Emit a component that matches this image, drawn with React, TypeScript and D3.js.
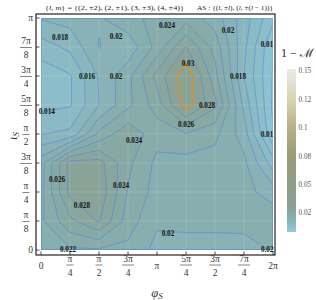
import { useMemo } from 'react';
import * as d3 from 'd3';

const W = 316;
const H = 300;

// sample grid, in units of π
const phiGrid = [0, 0.25, 0.5, 0.75, 1, 1.25, 1.5, 1.75, 2];
const iotaGrid = [0, 0.125, 0.25, 0.375, 0.5, 0.625, 0.75, 0.875, 1];

// 1 - M, rows = ι (bottom -> top), columns = φ
const mismatch = [
  [0.0214, 0.0217, 0.0217, 0.0215, 0.0194, 0.0194, 0.0194, 0.0195, 0.0201],
  [0.0216, 0.0255, 0.0282, 0.0230, 0.0203, 0.0204, 0.0204, 0.0204, 0.0215],
  [0.0214, 0.0286, 0.0295, 0.0238, 0.0212, 0.0208, 0.0208, 0.0207, 0.0190],
  [0.0212, 0.0288, 0.0288, 0.0245, 0.0215, 0.0212, 0.0212, 0.0205, 0.0150],
  [0.0159, 0.0165, 0.0225, 0.0255, 0.0228, 0.0239, 0.0225, 0.0190, 0.0102],
  [0.0135, 0.0138, 0.0180, 0.0215, 0.0250, 0.0310, 0.0265, 0.0175, 0.0096],
  [0.0128, 0.0138, 0.0182, 0.0214, 0.0267, 0.0315, 0.0248, 0.0160, 0.0098],
  [0.0150, 0.0165, 0.0201, 0.0186, 0.0227, 0.0281, 0.0232, 0.0165, 0.0101],
  [0.0182, 0.0188, 0.0198, 0.0215, 0.0225, 0.0232, 0.0210, 0.0170, 0.0125],
];

const levels = [0.01, 0.012, 0.014, 0.016, 0.018, 0.02, 0.022, 0.024, 0.026, 0.028, 0.03];
const highlightLevel = 0.03;

const phiTicks = [0, 0.25, 0.5, 0.75, 1, 1.25, 1.5, 1.75, 2];
const phiTickLabels = [['0', ''], ['π', '4'], ['π', '2'], ['3π', '4'], ['π', ''], ['5π', '4'], ['3π', '2'], ['7π', '4'], ['2π', '']];
const iotaTicks = [0, 0.125, 0.25, 0.375, 0.5, 0.625, 0.75, 0.875, 1];
const iotaTickLabels = [['0', ''], ['π', '8'], ['π', '4'], ['3π', '8'], ['π', '2'], ['5π', '8'], ['3π', '4'], ['7π', '8'], ['π', '']];

// contour labels: text, φ/π, ι/π
const labelText = ['0.018', '0.02', '0.016', '0.02', '0.014', '0.024', '0.024', '0.02', '0.01', '0.03', '0.018', '0.028', '0.026', '0.01', '0.026', '0.024', '0.028', '0.022', '0.02', '0.02'];
const labelPhi = [0.164, 0.647, 0.397, 0.647, 0.05, 0.802, 1.086, 1.612, 1.948, 1.267, 1.698, 1.431, 1.25, 1.948, 0.138, 0.69, 0.353, 0.233, 1.095, 1.95];
const labelIota = [0.918, 0.922, 0.75, 0.75, 0.599, 0.47, 0.966, 0.944, 0.884, 0.806, 0.75, 0.625, 0.543, 0.496, 0.302, 0.28, 0.19, 0.004, 0.069, 0.004];

// colour function of the legend
const colorDomain = [0.0083, 0.01, 0.014, 0.02, 0.026, 0.03, 0.05, 0.075, 0.1, 0.125, 0.15];
const colorRange = ['#8eccde', '#8dc4d3', '#8bbcc6', '#87b0b2', '#87a7a0', '#89a295', '#8f9d87', '#9b9b78', '#b7b087', '#d8d5b3', '#e9e9e6'];

const barTicks = [0.15, 0.125, 0.1, 0.075, 0.05, 0.025];
const barTickLabels = ['0.15', '0.12', '0.1', '0.08', '0.05', '0.02'];
const barDomain = [0.0083, 0.1515];

const serif = "'Liberation Serif', 'DejaVu Serif', serif";

export default function App() {
  const nx = phiGrid.length;
  const ny = iotaGrid.length;
  const x = d3.scaleLinear([0, 2], [41, 273]);
  const y = d3.scaleLinear([0, 1], [250, 18]);
  const color = d3.scaleLinear<string>().domain(colorDomain).range(colorRange).clamp(true);
  const barY = d3.scaleLinear(barDomain, [232, 69]);

  const { bands, path } = useMemo(() => {
    const idxPhi = d3.scaleLinear(phiGrid.map((_, i) => i), phiGrid);
    const idxIota = d3.scaleLinear(iotaGrid.map((_, i) => i), iotaGrid);
    const toIdx = (c: number, n: number) => Math.max(0, Math.min(n - 1, c - 0.5));
    const proj = d3.geoTransform({
      point(px: number, py: number) {
        // @ts-ignore
        this.stream.point(x(idxPhi(toIdx(px, nx))), y(idxIota(toIdx(py, ny))));
      },
    });
    const bands = d3.contours().size([nx, ny]).thresholds(levels)(mismatch.flat());
    return { bands, path: d3.geoPath(proj) };
  }, []);

  const step = levels[1] - levels[0];

  return (
    <svg width={W} height={H} style={{ display: 'block', position: 'absolute', left: 0, top: 0 }}>
      <defs>
        <clipPath id="plot"><rect x={41} y={18} width={232} height={232} /></clipPath>
        <clipPath id="plotIn"><rect x={41.6} y={18.6} width={230.8} height={230.8} /></clipPath>
        <linearGradient id="bar" x1="0" y1="1" x2="0" y2="0">
          {colorDomain.map((v, i) => (
            <stop key={i} offset={(v - barDomain[0]) / (barDomain[1] - barDomain[0])} stopColor={colorRange[i]} />
          ))}
        </linearGradient>
      </defs>
      <rect width={W} height={H} fill="#fff" />

      {/* title */}
      <text x={45} y={9.5} fontFamily={serif} fontSize={7} fill="#222" textLength={139} lengthAdjust="spacingAndGlyphs">
        {'{'}<tspan fontStyle="italic">l</tspan>, <tspan fontStyle="italic">m</tspan>{'} = {(2, ±2), (2, ±1), (3, ±3), (4, ±4)}'}
      </text>
      <text x={197} y={9.5} fontFamily={serif} fontSize={7} fill="#222" textLength={76} lengthAdjust="spacingAndGlyphs">
        {'AS : {('}<tspan fontStyle="italic">l</tspan>, ±<tspan fontStyle="italic">l</tspan>{'), ('}<tspan fontStyle="italic">l</tspan>, ±(<tspan fontStyle="italic">l</tspan>{' − 1))}'}
      </text>

      {/* filled contour bands */}
      <g clipPath="url(#plot)">
        <rect x={41} y={18} width={232} height={232} fill={color(levels[0] - step / 2)} />
        {bands.map((b, i) => (
          <path key={i} d={path(b as any) || ''} fill={color(b.value + step / 2)} stroke="none" />
        ))}
        {phiTicks.slice(1, -1).map((t, i) => (
          <line key={'gx' + i} x1={x(t)} x2={x(t)} y1={18} y2={250} stroke="#fff" strokeOpacity={0.12} />
        ))}
        {iotaTicks.slice(1, -1).map((t, i) => (
          <line key={'gy' + i} x1={41} x2={273} y1={y(t)} y2={y(t)} stroke="#fff" strokeOpacity={0.12} />
        ))}
      </g>
      {/* contour lines */}
      <g clipPath="url(#plotIn)" fill="none">
        {bands.map((b, i) => (
          <path key={i} d={path(b as any) || ''}
            stroke={b.value === highlightLevel ? '#ec8a1c' : '#5a7fdc'}
            strokeWidth={b.value === highlightLevel ? 1.1 : 0.7}
            strokeOpacity={b.value === highlightLevel ? 1 : 0.8}
            strokeLinejoin="round" />
        ))}
      </g>
      {/* contour labels */}
      <g fontFamily={serif} fontSize={7.2} fontWeight="bold" fill="#111" textAnchor="middle">
        {labelText.map((t, i) => (
          <text key={i} x={x(labelPhi[i])} y={y(labelIota[i]) + 2.5}>{t}</text>
        ))}
      </g>

      {/* frame */}
      <rect x={36} y={14} width={239} height={241} fill="none" stroke="#222" strokeWidth={1.2} />
      {phiTicks.map((t, i) => (
        <line key={'tx' + i} x1={x(t)} x2={x(t)} y1={255} y2={251.5} stroke="#222" strokeWidth={0.8} />
      ))}
      {iotaTicks.map((t, i) => (
        <line key={'ty' + i} x1={36} x2={39.5} y1={y(t)} y2={y(t)} stroke="#222" strokeWidth={0.8} />
      ))}

      {/* tick labels */}
      <g fontFamily={serif} fontSize={9.5} fill="#333">
        {iotaTicks.map((t, i) => {
          const [num, den] = iotaTickLabels[i];
          const ty = y(t);
          if (!den) return <text key={i} x={33} y={ty + 3.3} textAnchor="end">{num}</text>;
          const w = num.length > 1 ? 12 : 7;
          return (
            <g key={i} textAnchor="middle">
              <text x={26} y={ty - 2.8}>{num}</text>
              <line x1={26 - w / 2} x2={26 + w / 2} y1={ty + 0.5} y2={ty + 0.5} stroke="#333" strokeWidth={0.6} />
              <text x={26} y={ty + 10.5}>{den}</text>
            </g>
          );
        })}
        {phiTicks.map((t, i) => {
          const [num, den] = phiTickLabels[i];
          const tx = x(t);
          if (!den) return <text key={i} x={tx} y={268.5} textAnchor="middle">{num}</text>;
          const w = num.length > 1 ? 12 : 7;
          return (
            <g key={i} textAnchor="middle">
              <text x={tx} y={262}>{num}</text>
              <line x1={tx - w / 2} x2={tx + w / 2} y1={265} y2={265} stroke="#333" strokeWidth={0.6} />
              <text x={tx} y={275.5}>{den}</text>
            </g>
          );
        })}
      </g>

      {/* axis titles */}
      <text x={157} y={297} fontFamily={serif} fontSize={12.5} fontStyle="italic" fill="#333" textAnchor="middle">
        φ<tspan fontSize={9} dy={2}>S</tspan>
      </text>
      <text transform="translate(17,136) rotate(-90)" fontFamily={serif} fontSize={12.5} fontStyle="italic" fill="#333" textAnchor="middle">
        ι<tspan fontSize={9} dy={2}>S</tspan>
      </text>

      {/* legend */}
      <text x={281} y={57} fontFamily={serif} fontSize={12} fill="#222">1 − ℳ</text>
      <rect x={287} y={barY(barDomain[1])} width={9} height={barY(barDomain[0]) - barY(barDomain[1])} fill="url(#bar)" />
      <g fontFamily={serif} fontSize={7.2} fill="#555">
        {barTicks.map((t, i) => (
          <text key={i} x={298.5} y={barY(t) + 2.5}>{barTickLabels[i]}</text>
        ))}
      </g>
    </svg>
  );
}
